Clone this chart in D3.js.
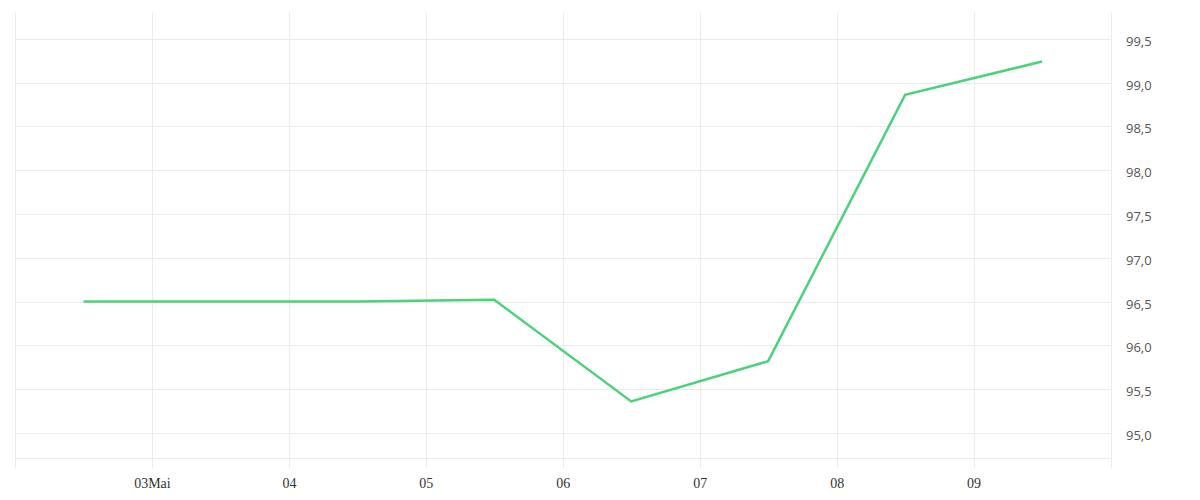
<!DOCTYPE html>
<html>
<head>
<meta charset="utf-8">
<script src="https://cdn.jsdelivr.net/npm/d3@7"></script>
<style>
  html, body { margin: 0; padding: 0; background: #fff; }
  svg { display: block; }
</style>
</head>
<body>
<svg id="chart" width="1200" height="500"></svg>
<script>
// Data: one value per day, sampled at noon
const dates = ["2024-05-02T12:00", "2024-05-03T12:00", "2024-05-04T12:00", "2024-05-05T12:00",
               "2024-05-06T12:00", "2024-05-07T12:00", "2024-05-08T12:00", "2024-05-09T12:00"];
const values = [96.5, 96.5, 96.5, 96.52, 95.36, 95.82, 98.86, 99.24];
const yTicks = [95.0, 95.5, 96.0, 96.5, 97.0, 97.5, 98.0, 98.5, 99.0, 99.5];
const xTickDates = ["2024-05-03", "2024-05-04", "2024-05-05", "2024-05-06", "2024-05-07", "2024-05-08", "2024-05-09"];
const xTickLabels = ["03Mai", "04", "05", "06", "07", "08", "09"];

(function () {
const parse = d3.timeParse("%Y-%m-%dT%H:%M");
const parseDay = d3.timeParse("%Y-%m-%d");
const data = dates.map((d, i) => ({ date: parse(d), value: values[i] }));

const pLeft = 15, pRight = 1110.5, pTop = 12.5, pBottom = 468;
const svg = d3.select("#chart");

const x = d3.scaleTime()
  .domain([parseDay("2024-05-02"), parseDay("2024-05-10")])
  .range([pLeft, pRight]);
const y = d3.scaleLinear()
  .domain([94.6, 99.8])
  .range([pBottom, pTop]);

const grid = "#ebebeb";

// horizontal gridlines
svg.append("g").selectAll("line").data(yTicks).join("line")
  .attr("x1", pLeft).attr("x2", pRight)
  .attr("y1", d => Math.round(y(d)) + 0.5).attr("y2", d => Math.round(y(d)) + 0.5)
  .attr("stroke", grid).attr("stroke-width", 1);

// bottom baseline
svg.append("line")
  .attr("x1", pLeft).attr("x2", pRight)
  .attr("y1", 458.5).attr("y2", 458.5)
  .attr("stroke", grid).attr("stroke-width", 1);

// vertical gridlines (day boundaries incl. edges)
const vLines = d3.timeDay.range(parseDay("2024-05-02"), d3.timeDay.offset(parseDay("2024-05-10"), 1));
svg.append("g").selectAll("line").data(vLines).join("line")
  .attr("x1", d => Math.round(x(d)) + 0.5).attr("x2", d => Math.round(x(d)) + 0.5)
  .attr("y1", pTop).attr("y2", pBottom)
  .attr("stroke", grid).attr("stroke-width", 1);

// x-axis labels
const xAxis = d3.axisBottom(x)
  .tickValues(xTickDates.map(parseDay))
  .tickFormat((d, i) => xTickLabels[i])
  .tickSize(0).tickPadding(0);
const gx = svg.append("g").attr("transform", `translate(0, ${pBottom})`).call(xAxis);
gx.select(".domain").remove();
gx.selectAll("text")
  .attr("y", 20).attr("dy", 0)
  .attr("font-family", "'Liberation Serif', serif")
  .attr("font-size", 14)
  .attr("fill", "#333");

// y-axis labels (right)
const yAxis = d3.axisRight(y)
  .tickValues(yTicks)
  .tickFormat(d => d3.format(".1f")(d).replace(".", ","))
  .tickSize(0).tickPadding(0);
const gy = svg.append("g").attr("transform", `translate(1126, 0)`).call(yAxis);
gy.select(".domain").remove();
gy.selectAll("text")
  .attr("x", 0).attr("dy", "0.5em")
  .attr("font-family", "'Open Sans', sans-serif")
  .attr("font-size", 13)
  .attr("fill", "#555");

// line
const line = d3.line().x(d => x(d.date)).y(d => y(d.value));
svg.append("path")
  .datum(data)
  .attr("d", line)
  .attr("fill", "none")
  .attr("stroke", "#4cd27a")
  .attr("stroke-width", 2.5)
  .attr("stroke-linejoin", "miter");
})();
</script>
</body>
</html>
